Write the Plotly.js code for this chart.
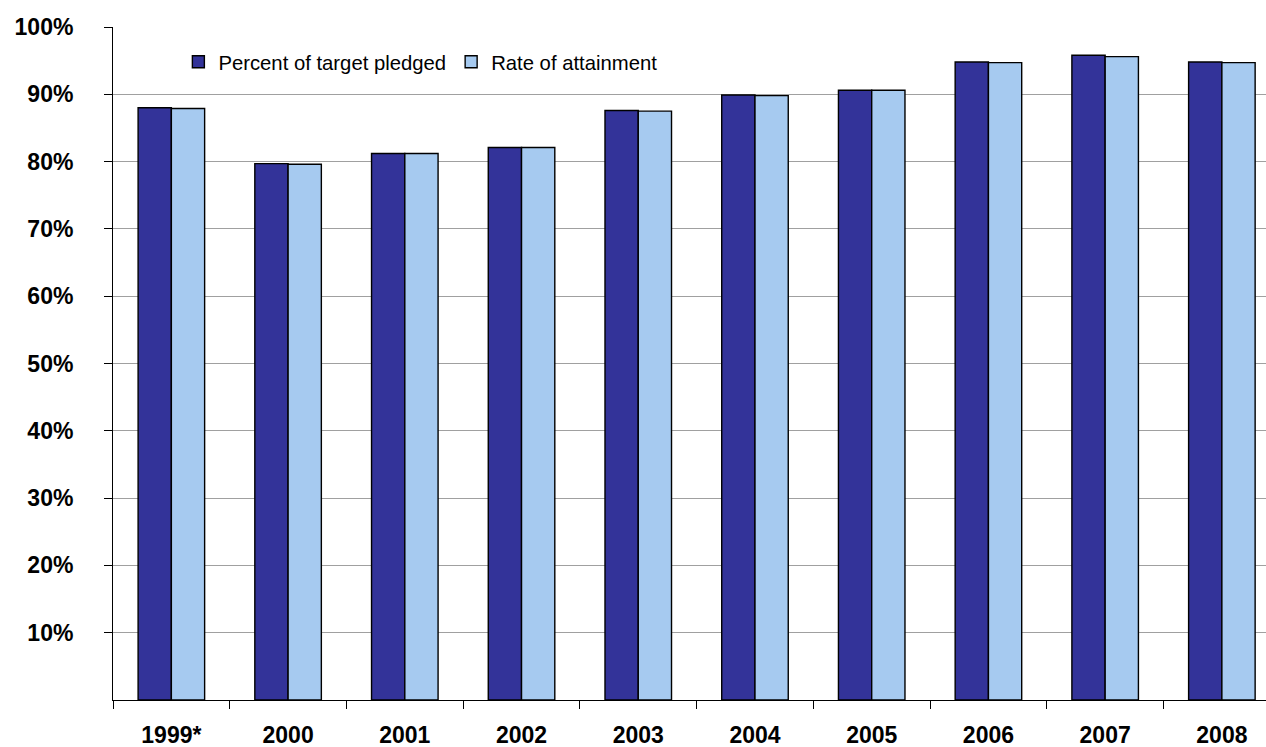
<!DOCTYPE html>
<html>
<head>
<meta charset="utf-8">
<script src="https://cdn.plot.ly/plotly-3.0.1.min.js"></script>
<style>html,body{margin:0;padding:0;background:#fff;}#chart{width:1266px;height:747px;}</style>
</head>
<body>
<div id="chart"></div>
<script>
const years = ["1999*", "2000", "2001", "2002", "2003", "2004", "2005", "2006", "2007", "2008"];
const pledged = [88.0, 79.7, 81.2, 82.1, 87.6, 89.9, 90.6, 94.8, 95.8, 94.8];
const attainment = [87.9, 79.6, 81.2, 82.1, 87.5, 89.8, 90.6, 94.7, 95.6, 94.7];
const yTicks = [10, 20, 30, 40, 50, 60, 70, 80, 90, 100];

const traces = [
  {type: 'bar', name: 'Percent of target pledged', x: years, y: pledged,
   marker: {color: '#333399', line: {color: '#000000', width: 1.4}}, hoverinfo: 'skip'},
  {type: 'bar', name: 'Rate of attainment', x: years, y: attainment,
   marker: {color: '#A6CAF0', line: {color: '#000000', width: 1.4}}, hoverinfo: 'skip'}
];

const layout = {
  width: 1266, height: 747,
  margin: {l: 113, r: 0, t: 27, b: 47, pad: 0},
  paper_bgcolor: '#ffffff', plot_bgcolor: '#ffffff',
  font: {family: '"Liberation Sans", Arial, sans-serif', color: '#000000'},
  barmode: 'group', bargap: 0.43, bargroupgap: 0,
  showlegend: true,
  legend: {orientation: 'h', x: 0.0567, y: 0.948, xanchor: 'left', yanchor: 'middle',
           font: {size: 20.3, color: '#000'}, bgcolor: 'rgba(0,0,0,0)', itemwidth: 30,
           traceorder: 'normal'},
  xaxis: {type: 'category', range: [-0.5, 9.378], tickson: 'boundaries',
          ticks: 'outside', ticklen: 8, tickwidth: 1, tickcolor: '#000',
          showline: true, linecolor: '#000', linewidth: 1, showgrid: false, zeroline: false,
          tickfont: {size: 23, weight: 'bold', color: '#000'}, ticklabelstandoff: 14,
          fixedrange: true},
  yaxis: {range: [0, 100], tickvals: yTicks, ticktext: yTicks.map(v => v + '%'),
          ticks: 'outside', ticklen: 8, tickwidth: 1, tickcolor: '#000',
          showline: true, linecolor: '#000', linewidth: 1,
          showgrid: true, gridcolor: '#A0A0A0', gridwidth: 1, zeroline: false,
          tickfont: {size: 23, weight: 'bold', color: '#000'}, ticklabelstandoff: 26,
          fixedrange: true}
};

Plotly.newPlot('chart', traces, layout, {displayModeBar: false, staticPlot: true});
</script>
</body>
</html>
